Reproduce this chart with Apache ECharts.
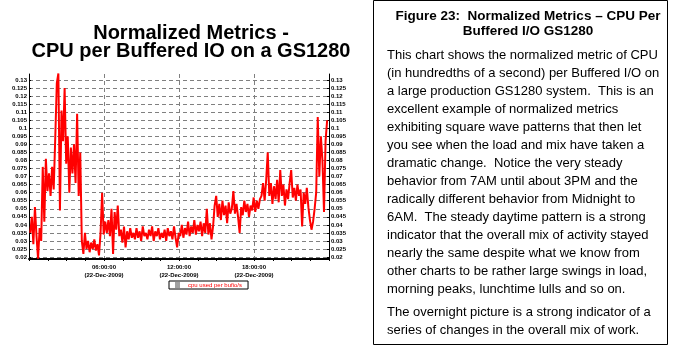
<!DOCTYPE html>
<html>
<head>
<meta charset="utf-8">
<script src="https://cdn.jsdelivr.net/npm/echarts@6/dist/echarts.min.js"></script>
<style>
  html, body { margin: 0; padding: 0; background: #fff; }
  #chart { width: 675px; height: 351px; }
</style>
</head>
<body>
<div id="chart"></div>
<script>
// sample times in hours from midnight, 22-Dec-2009
const startHour = 0.1;
const stepHour = 0.125;
const cpuPerBufio = [
  0.035, 0.045, 0.028, 0.051, 0.033, 0.019, 0.038, 0.030, 0.076, 0.042,
  0.081, 0.061, 0.072, 0.058, 0.076, 0.062, 0.094, 0.128, 0.134, 0.049,
  0.111, 0.092, 0.125, 0.078, 0.095, 0.060, 0.088, 0.072, 0.090, 0.066,
  0.109, 0.058, 0.085, 0.030, 0.022, 0.035, 0.025, 0.030, 0.023, 0.029,
  0.025, 0.031, 0.024, 0.028, 0.021, 0.035, 0.060, 0.034, 0.042, 0.035,
  0.043, 0.033, 0.050, 0.022, 0.048, 0.037, 0.052, 0.033, 0.037, 0.029,
  0.039, 0.026, 0.036, 0.031, 0.038, 0.032, 0.035, 0.031, 0.038, 0.032,
  0.036, 0.030, 0.039, 0.033, 0.035, 0.031, 0.037, 0.033, 0.039, 0.030,
  0.036, 0.033, 0.038, 0.031, 0.035, 0.032, 0.037, 0.030, 0.038, 0.033,
  0.036, 0.031, 0.039, 0.032, 0.026, 0.035, 0.033, 0.040, 0.032, 0.038,
  0.034, 0.042, 0.033, 0.039, 0.035, 0.043, 0.034, 0.040, 0.036, 0.042,
  0.033, 0.041, 0.035, 0.050, 0.034, 0.041, 0.031, 0.039, 0.052, 0.058,
  0.045, 0.053, 0.043, 0.055, 0.046, 0.052, 0.041, 0.054, 0.047, 0.050,
  0.061, 0.047, 0.053, 0.045, 0.035, 0.051, 0.046, 0.055, 0.048, 0.053,
  0.045, 0.052, 0.049, 0.057, 0.048, 0.055, 0.050, 0.056, 0.058, 0.066,
  0.055, 0.068, 0.085, 0.058, 0.066, 0.053, 0.064, 0.056, 0.068, 0.054,
  0.074, 0.058, 0.065, 0.052, 0.062, 0.056, 0.066, 0.074, 0.057, 0.063,
  0.055, 0.065, 0.058, 0.062, 0.039, 0.060, 0.053, 0.063, 0.051, 0.043,
  0.037, 0.042, 0.050, 0.060, 0.107, 0.070, 0.095, 0.080, 0.048, 0.092,
  0.105
];
const yTicks = [
  0.02, 0.025, 0.03, 0.035, 0.04, 0.045, 0.05, 0.055, 0.06, 0.065, 0.07, 0.075,
  0.08, 0.085, 0.09, 0.095, 0.1, 0.105, 0.11, 0.115, 0.12, 0.125, 0.13
];
const xHourLabels = { 6: '06:00:00', 12: '12:00:00', 18: '18:00:00' };
const dateLabel = '(22-Dec-2009)';
const seriesName = 'cpu used per bufio/s';

const noteTitle = 'Figure 23:  Normalized Metrics \u2013 CPU Per\nBuffered I/O GS1280';
const noteBody1 = [
  'This chart shows the normalized metric of CPU',
  '(in hundredths of a second) per Buffered I/O on',
  'a large production GS1280 system.  This is an',
  'excellent example of normalized metrics',
  'exhibiting square wave patterns that then let',
  'you see when the load and mix have taken a',
  'dramatic change.  Notice the very steady',
  'behavior from 7AM until about 3PM and the',
  'radically different behavior from Midnight to',
  '6AM.  The steady daytime pattern is a strong',
  'indicator that the overall mix of activity stayed',
  'nearly the same despite what we know from',
  'other charts to be rather large swings in load,',
  'morning peaks, lunchtime lulls and so on.'
];
const noteBody2 = [
  'The overnight picture is a strong indicator of a',
  'series of changes in the overall mix of work.'
];

const FONT = '"Liberation Sans", Arial, sans-serif';
const chart = echarts.init(document.getElementById('chart'));

function yAxisDef(pos) {
  return {
    type: 'value',
    position: pos,
    min: 0.0188,
    max: 0.1337,
    axisLine: { show: true, lineStyle: { color: '#000', width: 1 } },
    axisTick: { show: true, inside: true, length: 2, customValues: yTicks, lineStyle: { color: '#000' } },
    axisLabel: {
      customValues: yTicks,
      margin: 2,
      fontSize: 6,
      fontWeight: 'bold',
      fontFamily: FONT,
      color: '#000',
      formatter: v => String(+v.toFixed(3))
    },
    splitLine: pos === 'left' ? {
      show: true,
      lineStyle: { color: '#808080', type: [4, 3], width: 1 }
    } : { show: false }
  };
}

chart.setOption({
  animation: false,
  title: {
    text: 'Normalized Metrics -\nCPU per Buffered IO on a GS1280',
    left: 186,
    top: 19,
    textAlign: 'center',
    textStyle: { fontSize: 20, fontWeight: 'bold', fontFamily: FONT, color: '#000', lineHeight: 18 }
  },
  legend: {
    left: 169,
    top: 281,
    padding: [1, 6],
    itemGap: 0,
    itemWidth: 5,
    itemHeight: 6,
    icon: 'rect',
    borderColor: '#000',
    borderWidth: 1,
    itemStyle: { color: '#a0a0a0' },
    textStyle: { fontSize: 6, fontFamily: FONT, color: '#ff0000', padding: [0, 0, 0, 3] },
    data: [seriesName]
  },
  grid: { left: 29, right: 346, top: 74, bottom: 92 },
  xAxis: {
    type: 'value',
    min: 0,
    max: 24,
    interval: 6,
    axisLine: { show: true, onZero: false, lineStyle: { color: '#000', width: 2 } },
    axisTick: { show: true, length: 2, lineStyle: { color: '#000' } },
    minorTick: { show: true, splitNumber: 4, length: 2, lineStyle: { color: '#000' } },
    axisLabel: {
      margin: 4,
      fontSize: 6,
      fontWeight: 'bold',
      lineHeight: 8,
      fontFamily: FONT,
      color: '#000',
      formatter: v => xHourLabels[v] ? xHourLabels[v] + '\n' + dateLabel : ''
    },
    splitLine: {
      show: true,
      showMinLine: false,
      showMaxLine: false,
      lineStyle: { color: '#808080', type: [4, 3], width: 1 }
    }
  },
  yAxis: [yAxisDef('left'), yAxisDef('right')],
  series: [{
    name: seriesName,
    type: 'line',
    showSymbol: false,
    symbol: 'none',
    data: cpuPerBufio.map((v, i) => [startHour + i * stepHour, v]),
    lineStyle: { color: '#ff0000', width: 2 },
    itemStyle: { color: '#ff0000' }
  }],
  graphic: [
    {
      type: 'rect',
      shape: { x: 373.5, y: 0.5, width: 294, height: 344 },
      style: { fill: '#fff', stroke: '#000', lineWidth: 1 },
      z: -1
    },
    {
      type: 'text',
      style: {
        text: noteTitle,
        x: 528, y: 9,
        textAlign: 'center',
        textVerticalAlign: 'top',
        font: 'bold 13.5px ' + FONT,
        lineHeight: 15,
        fill: '#000'
      }
    },
    {
      type: 'text',
      style: {
        text: noteBody1.join('\n'),
        x: 387, y: 46,
        textVerticalAlign: 'top',
        font: '13px ' + FONT,
        lineHeight: 18,
        fill: '#000'
      }
    },
    {
      type: 'text',
      style: {
        text: noteBody2.join('\n'),
        x: 387, y: 303,
        textVerticalAlign: 'top',
        font: '13px ' + FONT,
        lineHeight: 18,
        fill: '#000'
      }
    }
  ]
});
</script>
</body>
</html>
